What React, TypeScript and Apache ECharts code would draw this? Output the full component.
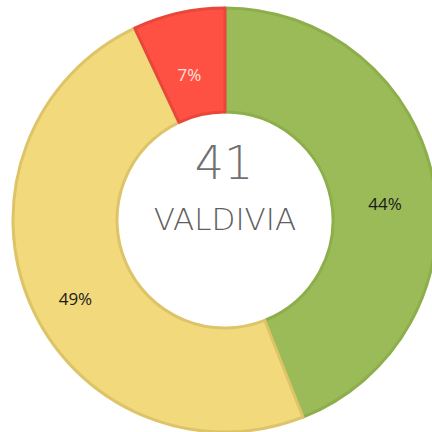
import React, { useEffect, useRef } from "react";
import * as echarts from "echarts";

const categories = ["Green", "Yellow", "Red"];
const values = [44, 49, 7];
const colors = ["#9BBB59", "#F2D97C", "#FF5143"];
const borderColors = ["#8CAE4B", "#DEC468", "#E8473A"];
const labelColors = ["#1a1a1a", "#1a1a1a", "#FBE3DF"];
const centerNumber = "41";
const centerName = "VALDIVIA";

export default function App() {
  const ref = useRef<HTMLDivElement>(null);
  useEffect(() => {
    const chart = echarts.init(ref.current!, null, { renderer: "svg" });
    const labelBase = {
      show: true,
      position: "inside",
      formatter: "{c}%",
      fontSize: 17,
      fontFamily: "'Open Sans', sans-serif",
      offset: [0, 14],
    };
    chart.setOption({
      animation: false,
      series: [
        {
          type: "pie",
          center: [225, 220],
          radius: [108, 212],
          startAngle: 90,
          clockwise: true,
          silent: true,
          data: categories.map((c, i) => ({
            name: c,
            value: values[i],
            itemStyle: { color: colors[i], borderColor: borderColors[i], borderWidth: 3 },
            label: { ...labelBase, color: labelColors[i] },
          })),
          label: labelBase,
          labelLine: { show: false },
        },
      ],
      graphic: [
        {
          type: "text",
          x: 224,
          y: 140,
          style: {
            text: centerNumber,
            textAlign: "center",
            fontSize: 46,
            fontWeight: 200,
            fontFamily: "'DejaVu Sans', sans-serif",
            fill: "#707070",
          },
        },
        {
          type: "text",
          x: 225,
          y: 203,
          style: {
            text: centerName,
            textAlign: "center",
            fontSize: 31,
            fontWeight: 200,
            fontFamily: "'DejaVu Sans', sans-serif",
            fill: "#5f5f5f",
          },
        },
      ],
    });
    return () => chart.dispose();
  }, []);
  return <div ref={ref} style={{ width: 432, height: 432, position: "absolute", left: 0, top: 0 }} />;
}
